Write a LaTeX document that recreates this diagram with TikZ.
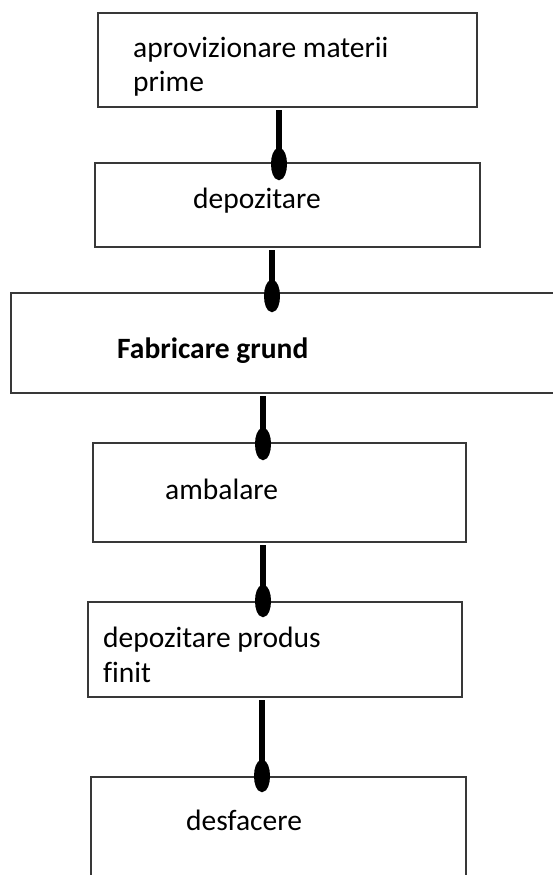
\documentclass[tikz,border=0pt]{standalone}
\usepackage{fontspec}
\setmainfont{Carlito}[Ligatures=NoCommon]
\usetikzlibrary{arrows.meta,fit,positioning}

\begin{document}
\begin{tikzpicture}[x=1pt,y=-1pt,
        every node/.style={inner sep=0pt, font=\fontsize{29.5}{35}\selectfont},
        box/.style={draw=black!78, line width=2pt},
        flow/.style={line width=5.5pt, shorten <=2pt, -{Ellipse[length=32pt,width=16pt]}}]
        \useasboundingbox (0,0) rectangle (553,875);
        \clip (0,0) rectangle (553,875);

        % boxes
        \node[box, fit={(98,13) (477,107)}] (aprov) {};
        \node[box, fit={(95,163) (480,247)}] (depoz) {};
        \node[box, fit={(11,293) (565,393)}] (fabric) {};
        \node[box, fit={(93,443) (466,542)}] (ambal) {};
        \node[box, fit={(88,602) (462,697)}] (depprod) {};
        \node[box, fit={(91,777) (466,890)}] (desf) {};

        % labels (base = last line)
        \node[anchor=base west, align=left] (aprovtxt) at (133,92) {aprovizionare materii\\prime};
        \node[anchor=base west] (depoztxt) at (193,208) {depozitare};
        \node[anchor=base west] (fabrictxt) at (117,358) {\bfseries Fabricare grund};
        \node[anchor=base west] (ambaltxt) at (165,499) {ambalare};
        \node[anchor=base west, align=left] (depprodtxt) at (103,682) {depozitare produs\\finit};
        \node[anchor=base west] (desftxt) at (186,830) {desfacere};

        % arrows
        \coordinate (e1) at (279,180);
        \coordinate (e2) at (272,312);
        \coordinate (e3) at (263,460);
        \coordinate (e4) at (263,617);
        \coordinate (e5) at (262,792);
        \draw[flow] (aprov.south -| e1) -- (e1);
        \draw[flow] (depoz.south -| e2) -- (e2);
        \draw[flow] (fabric.south -| e3) -- (e3);
        \draw[flow] (ambal.south -| e4) -- (e4);
        \draw[flow] (depprod.south -| e5) -- (e5);
    \end{tikzpicture}
\end{document}
